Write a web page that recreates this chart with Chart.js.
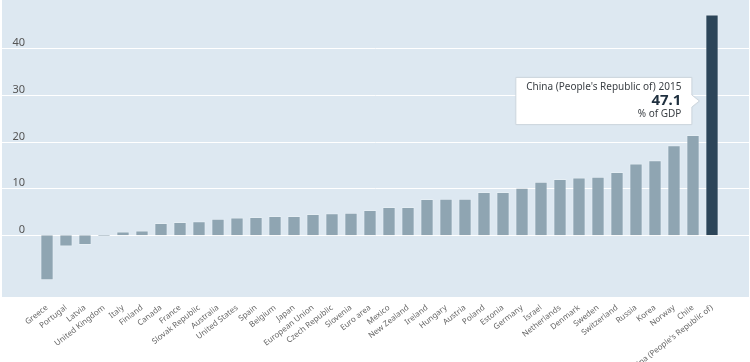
<!DOCTYPE html>
<html>
<head>
<meta charset="utf-8">
<script src="https://cdn.jsdelivr.net/npm/chart.js@4/dist/chart.umd.min.js"></script>
<style>
  html, body { margin: 0; padding: 0; background: #ffffff; }
  #wrap { position: relative; width: 750px; height: 362px; }
</style>
</head>
<body>
<div id="wrap"><canvas id="c"></canvas></div>
<script>
const categories = ["Greece","Portugal","Latvia","United Kingdom","Italy","Finland","Canada","France","Slovak Republic","Australia","United States","Spain","Belgium","Japan","European Union","Czech Republic","Slovenia","Euro area","Mexico","New Zealand","Ireland","Hungary","Austria","Poland","Estonia","Germany","Israel","Netherlands","Denmark","Sweden","Switzerland","Russia","Korea","Norway","Chile","China (People's Republic of)"];
const values = [-9.6,-2.4,-2.1,-0.3,0.8,1.0,2.6,2.8,3.0,3.5,3.8,3.9,4.1,4.1,4.5,4.7,4.8,5.4,6.0,6.0,7.7,7.8,7.8,9.2,9.2,10.1,11.4,12.0,12.3,12.5,13.5,15.3,16.0,19.2,21.4,47.1];
const yTickValues = [0, 10, 20, 30, 40];
const highlightCategory = "China (People's Republic of)";
const tooltipLines = ["China (People's Republic of) 2015", "47.1", "% of GDP"];

const baseColor = '#8fa5b2';
const highlightColor = '#2c4559';
const barColors = categories.map(c => c === highlightCategory ? highlightColor : baseColor);

const bgPlugin = {
  id: 'bgPlugin',
  beforeDraw(chart) {
    const ctx = chart.ctx, ca = chart.chartArea;
    ctx.save();
    ctx.fillStyle = '#dde8f1';
    ctx.fillRect(2, 0, 747, ca.bottom);
    const ys = chart.scales.y;
    ctx.strokeStyle = '#ffffff';
    ctx.lineWidth = 1;
    yTickValues.forEach(v => {
      const py = Math.round(ys.getPixelForValue(v)) + 0.5;
      ctx.beginPath();
      ctx.moveTo(2, py);
      ctx.lineTo(749, py);
      ctx.stroke();
    });
    ctx.restore();
  },
  afterDraw(chart) {
    const ctx = chart.ctx, ca = chart.chartArea;
    const idx = categories.indexOf(highlightCategory);
    const bar = chart.getDatasetMeta(0).data[idx];
    const tipX = bar.x - bar.width / 2 - 6;
    const tipY = ca.top + 100;
    const boxR = tipX - 8, boxL = boxR - 176;
    const boxT = tipY - 24, boxB = tipY + 23;
    ctx.save();
    ctx.shadowColor = 'rgba(0,0,0,0.08)';
    ctx.shadowBlur = 2;
    ctx.fillStyle = '#ffffff';
    ctx.strokeStyle = '#cfd8df';
    ctx.lineWidth = 1;
    ctx.beginPath();
    ctx.moveTo(boxL + 0.5, boxT + 0.5);
    ctx.lineTo(boxR + 0.5, boxT + 0.5);
    ctx.lineTo(boxR + 0.5, tipY - 6);
    ctx.lineTo(tipX, tipY);
    ctx.lineTo(boxR + 0.5, tipY + 6);
    ctx.lineTo(boxR + 0.5, boxB + 0.5);
    ctx.lineTo(boxL + 0.5, boxB + 0.5);
    ctx.closePath();
    ctx.fill();
    ctx.shadowColor = 'transparent';
    ctx.stroke();
    ctx.textAlign = 'right';
    ctx.textBaseline = 'middle';
    ctx.fillStyle = '#3a3f44';
    ctx.font = '10px "Noto Sans", sans-serif';
    ctx.fillText(tooltipLines[0], boxR - 10, tipY - 14);
    ctx.fillStyle = '#1e2f3e';
    ctx.font = 'bold 15px "Noto Sans", sans-serif';
    ctx.fillText(tooltipLines[1], boxR - 10, tipY + 0);
    ctx.fillStyle = '#3a3f44';
    ctx.font = '10px "Noto Sans", sans-serif';
    ctx.fillText(tooltipLines[2], boxR - 10, tipY + 13);
    ctx.restore();
  }
};

new Chart(document.getElementById('c'), {
  type: 'bar',
  data: {
    labels: categories,
    datasets: [{
      data: values,
      backgroundColor: barColors,
      borderColor: 'rgba(255,255,255,0.25)',
      borderWidth: 1,
      barPercentage: 0.7,
      categoryPercentage: 1.0
    }]
  },
  options: {
    responsive: true,
    maintainAspectRatio: false,
    animation: false,
    layout: { padding: { top: 1, right: 28.5, left: 0, bottom: 0 } },
    plugins: { legend: { display: false }, tooltip: { enabled: false } },
    scales: {
      x: {
        grid: { display: false, drawTicks: false },
        border: { display: false },
        afterFit(scale) { scale.height = 65; scale.paddingLeft = 0; scale.paddingRight = 0; },
        ticks: {
          autoSkip: false,
          minRotation: 38,
          maxRotation: 38,
          padding: 6,
          color: '#666',
          font: { family: '"Noto Sans", sans-serif', size: 8 }
        }
      },
      y: {
        min: -13.2,
        max: 50,
        grid: { display: false, drawTicks: false },
        border: { display: false },
        afterFit(scale) { scale.width = 37.5; scale.paddingTop = 0; scale.paddingBottom = 0; },
        afterBuildTicks(scale) { scale.ticks = yTickValues.map(v => ({ value: v })); },
        ticks: {
          padding: 12.5,
          labelOffset: -5,
          color: '#555',
          font: { family: '"Noto Sans", sans-serif', size: 11 }
        }
      }
    }
  },
  plugins: [bgPlugin]
});
</script>
</body>
</html>
